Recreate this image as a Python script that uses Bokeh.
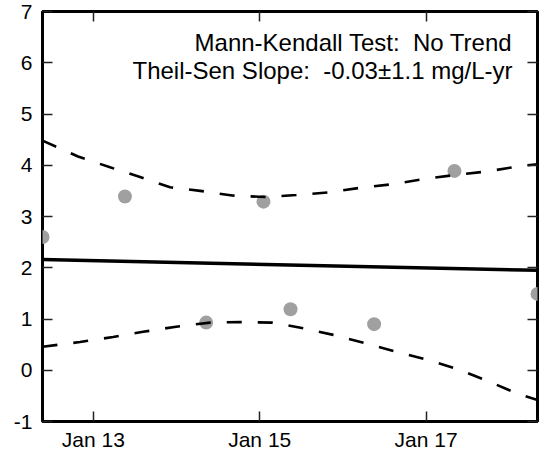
import pandas as pd
from bokeh.plotting import figure
from bokeh.models import (Range1d, FixedTicker, DatetimeTickFormatter, DatetimeAxis,
                          LinearAxis, Label)
from bokeh.embed import file_html
from bokeh.resources import INLINE

# ---- data ----
sample_dates = ["2015-01-12 09:20", "2015-01-13 09:07", "2015-01-14 08:33", "2015-01-15 01:05",
                "2015-01-15 08:53", "2015-01-16 09:00", "2015-01-17 08:10", "2015-01-18 08:08"]
sample_values = [2.6, 3.39, 0.93, 3.29, 1.19, 0.90, 3.89, 1.49]

trend_dates = ["2015-01-12 09:20", "2015-01-18 08:08"]
trend_values = [2.16, 1.95]

band_base = "2015-01-12"
upper_day = [0.389, 0.816, 1.201, 1.562, 1.923, 2.284, 2.669, 3.066, 3.439, 3.824,
             4.209, 4.594, 4.968, 5.353, 5.738, 6.113, 6.339]
upper_values = [4.48, 4.17, 3.96, 3.77, 3.57, 3.50, 3.41, 3.38, 3.42, 3.47,
                3.56, 3.63, 3.73, 3.81, 3.88, 3.98, 4.02]
lower_day = [0.389, 0.840, 1.237, 1.598, 1.995, 2.404, 2.765, 3.150, 3.524, 3.884,
             4.269, 4.643, 5.004, 5.365, 5.726, 6.089, 6.339]
lower_values = [0.46, 0.55, 0.65, 0.75, 0.85, 0.93, 0.94, 0.93, 0.82, 0.69,
                0.53, 0.36, 0.21, 0.03, -0.20, -0.45, -0.58]

x_tick_dates = ["2015-01-13", "2015-01-15", "2015-01-17"]
x_tick_labels = ["Jan 13", "Jan 15", "Jan 17"]
y_ticks = [-1, 0, 1, 2, 3, 4, 5, 6, 7]
y_tick_labels = ["-1", "0", "1", "2", "3", "4", "5", "6", "7"]
y_min, y_max = -1, 7

annot_line1 = "Mann-Kendall Test:\u00a0 No Trend"
annot_line2 = "Theil-Sen Slope:\u00a0 -0.03\u00b11.1 mg/L-yr"

# ---- build ----
FONT = "Liberation Sans"
t_samples = pd.to_datetime(sample_dates)
t_trend = pd.to_datetime(trend_dates)
base = pd.Timestamp(band_base)
t_upper = [base + pd.Timedelta(days=d) for d in upper_day]
t_lower = [base + pd.Timedelta(days=d) for d in lower_day]

def ms(t):
    return pd.Timestamp(t).value / 1e6

x_start, x_end = ms(t_samples[0]), ms(t_samples[-1])
x_tick_ms = [ms(t) for t in x_tick_dates]

p = figure(width=539, height=454, x_axis_type="datetime",
           x_range=Range1d(x_start, x_end), y_range=Range1d(y_min, y_max),
           output_backend="svg", toolbar_location=None,
           min_border_left=42, min_border_right=2, min_border_top=11, min_border_bottom=33)
p.xgrid.visible = False
p.ygrid.visible = False
p.background_fill_color = "white"
p.border_fill_color = "white"
p.outline_line_color = "black"
p.outline_line_width = 3

xticker = FixedTicker(ticks=x_tick_ms)
yticker = FixedTicker(ticks=y_ticks)
fmt = DatetimeTickFormatter(days="%b %d", months="%b %d", hours="%b %d")

def style(ax, show_labels):
    ax.axis_line_color = None
    ax.major_tick_in = 10
    ax.major_tick_out = 0
    ax.minor_tick_line_color = None
    ax.major_tick_line_color = "#222222"
    ax.major_tick_line_width = 1.5
    if show_labels:
        ax.major_label_text_font = FONT
        ax.major_label_text_font_size = "21px"
        ax.major_label_text_color = "black"
    else:
        ax.major_label_text_font_size = "0px"
        ax.major_label_text_color = None
        ax.major_label_standoff = 0

xa = p.xaxis[0]
xa.ticker = xticker
xa.formatter = fmt
xa.major_label_overrides = {t: lab for t, lab in zip(x_tick_ms, x_tick_labels)}
xa.major_label_standoff = 6
style(xa, True)

ya = p.yaxis[0]
ya.ticker = yticker
ya.major_label_overrides = {t: lab for t, lab in zip(y_ticks, y_tick_labels)}
ya.major_label_standoff = 10
style(ya, True)

top = DatetimeAxis(ticker=xticker, formatter=fmt)
style(top, False)
p.add_layout(top, "above")
right = LinearAxis(ticker=yticker)
style(right, False)
p.add_layout(right, "right")

p.scatter(t_samples, sample_values, size=14, color="#a0a0a0", line_color=None)
p.line(t_trend, trend_values, line_color="black", line_width=3.5)
p.line(t_upper, upper_values, line_color="black", line_width=2.6, line_dash="15 16")
p.line(t_lower, lower_values, line_color="black", line_width=2.6, line_dash="15 16")

for txt, yoff in [(annot_line1, -17), (annot_line2, -45)]:
    p.add_layout(Label(x=x_end, y=y_max, x_offset=-25, y_offset=yoff, text=txt,
                       text_align="right", text_baseline="top",
                       text_font=FONT, text_font_size="24px", text_color="black"))

open("out.html", "w").write(file_html(p, INLINE))
